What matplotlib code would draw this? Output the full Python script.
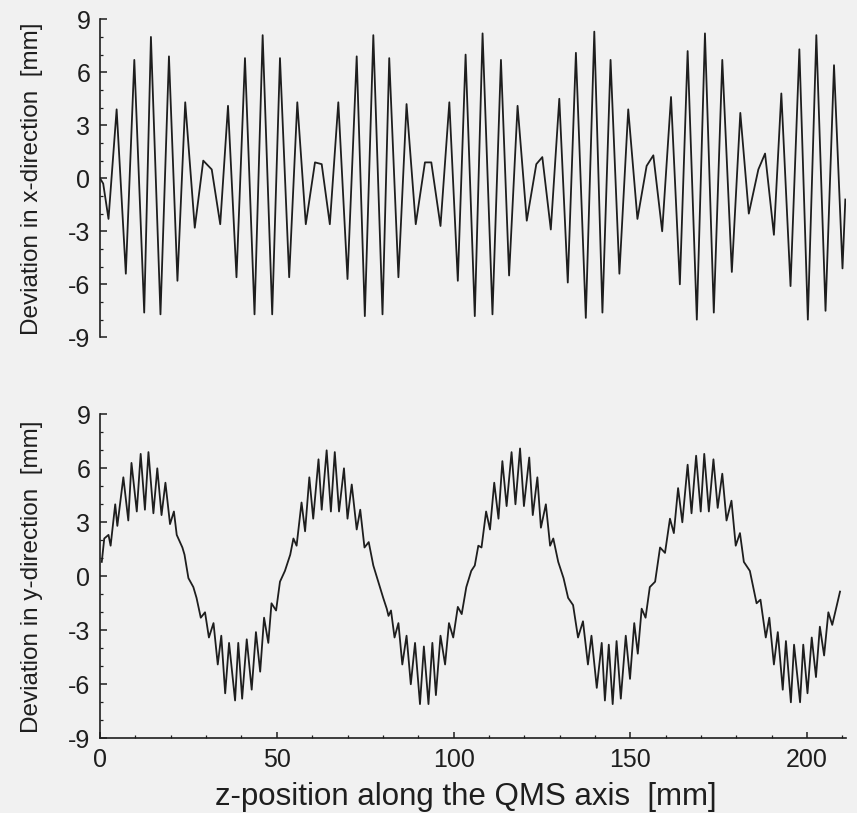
"""Ion trajectory deviation in x and y along the QMS axis (two stacked panels)."""

import matplotlib

matplotlib.use("Agg")
import matplotlib.pyplot as plt
from matplotlib.ticker import MultipleLocator

# top panel: extrema of the x-deviation trace
X_Z = [0.0, 0.9, 2.4, 4.7, 7.3, 9.7, 12.5, 14.4, 17.1, 19.5, 21.9, 24.1, 26.8, 29.2, 31.6,
       34.0, 36.2, 38.6, 41.0, 43.7, 46.0, 48.7, 50.9, 53.5, 55.8, 58.2, 60.8, 62.7, 65.0,
       67.4, 70.0, 72.6, 74.9, 77.3, 79.9, 81.8, 84.4, 86.7, 89.3, 91.9, 93.7, 96.3, 98.8,
       101.2, 103.4, 106.0, 108.2, 111.0, 113.4, 115.7, 118.1, 120.7, 123.4, 125.1, 127.5,
       129.9, 132.3, 134.6, 137.4, 139.8, 142.1, 144.4, 146.9, 149.4, 152.0, 154.6, 156.5,
       159.0, 161.5, 164.0, 166.2, 168.8, 171.1, 173.6, 176.0, 178.7, 181.1, 183.5, 186.2,
       188.1, 190.6, 192.7, 195.3, 197.8, 200.2, 202.6, 205.2, 207.6, 210.0, 210.8]
X_DEV = [0.0, -0.3, -2.3, 3.9, -5.4, 6.7, -7.6, 8.0, -7.7, 6.9, -5.8, 4.3, -2.8, 1.0, 0.5,
         -2.6, 4.1, -5.6, 6.8, -7.7, 8.1, -7.7, 6.8, -5.6, 4.3, -2.6, 0.9, 0.8, -2.6,
         4.3, -5.7, 6.9, -7.8, 8.1, -7.7, 6.8, -5.6, 4.2, -2.6, 0.9, 0.9, -2.7, 4.3,
         -5.8, 7.0, -7.8, 8.2, -7.7, 6.7, -5.5, 4.1, -2.4, 0.8, 1.2, -2.9,
         4.5, -5.9, 7.1, -7.9, 8.3, -7.6, 6.7, -5.4, 3.9, -2.3, 0.7, 1.3,
         -3.0, 4.6, -6.0, 7.2, -8.0, 8.2, -7.6, 6.7, -5.3, 3.7, -2.0, 0.5,
         1.4, -3.2, 4.8, -6.1, 7.3, -8.0, 8.1, -7.5, 6.4, -5.1, -1.2]

# bottom panel: ripple extrema of the y-deviation trace
Y_Z = [0.5, 1.2, 2.4, 3.0, 4.3, 4.9, 6.6, 8.0, 8.9, 10.4, 11.5, 12.7, 13.7, 15.1, 16.2,
       17.4, 18.5, 19.8, 20.9, 21.7, 23.3, 23.9, 25.0, 26.4, 27.3, 28.5, 29.7, 30.8, 32.1,
       33.3, 34.3, 35.4, 36.5, 38.2, 39.1, 40.2, 41.5, 42.9, 44.1, 45.3, 46.4, 47.6, 48.5,
       49.8, 50.9, 52.3, 53.8, 54.7, 55.6, 57.0, 58.0, 59.2, 60.3, 61.8, 62.7, 64.1, 65.3,
       66.4, 67.6, 69.0, 70.0, 71.2, 72.6, 73.6, 74.8, 76.0, 77.3, 78.7, 80.1, 81.1, 81.6,
       82.3, 83.3, 84.4, 85.5, 86.7, 87.9, 89.1, 90.5, 91.6, 92.9, 94.0, 95.0, 96.3, 97.6,
       98.7, 99.9, 101.2, 102.3, 103.6, 105.0, 106.0, 107.0, 107.9, 109.2, 110.3, 111.5,
       112.7, 113.8, 115.0, 116.4, 117.5, 118.8, 119.9, 121.4, 122.4, 123.7, 124.7, 126.1,
       127.3, 128.2, 129.6, 131.1, 132.4, 133.8, 135.2, 136.6, 138.0, 139.0, 140.5, 141.9,
       142.8, 143.9, 145.0, 146.1, 147.3, 148.7, 149.9, 151.1, 152.1, 153.2, 154.3, 155.5,
       157.0, 158.4, 159.8, 161.2, 162.3, 163.5, 164.7, 166.2, 167.3, 168.6, 169.9, 170.9,
       172.2, 173.5, 174.7, 176.0, 177.2, 178.6, 179.8, 181.0, 182.1, 183.8, 185.7, 186.8,
       188.3, 189.3, 190.6, 191.7, 193.1, 194.0, 195.4, 196.3, 198.0, 198.9, 200.1, 201.3,
       202.5, 203.6, 204.8, 206.0, 207.1, 209.3]
Y_DEV = [0.8, 2.1, 2.3, 1.7, 4.0, 2.8, 5.5, 3.1, 6.3, 3.6, 6.8, 3.7, 6.9, 3.5, 6.0,
         3.4, 5.2, 2.9, 3.6, 2.3, 1.6, 1.2, -0.1, -0.6, -1.2, -2.3, -2.0, -3.4, -2.6,
         -4.9, -3.3, -6.5, -3.7, -6.9, -3.7, -6.8, -3.5, -6.3, -3.1, -5.3, -2.3, -3.7, -1.5,
         -1.9, -0.3, 0.3, 1.2, 2.1, 1.7, 4.1, 2.5, 5.5, 3.2, 6.5, 3.7, 7.0, 3.6,
         6.9, 3.6, 6.0, 3.2, 5.1, 2.6, 3.7, 1.6, 1.9, 0.6, -0.3, -1.2, -1.8, -2.2,
         -1.9, -3.4, -2.6, -4.9, -3.3, -6.0, -3.7, -7.1, -3.9, -7.1, -3.7, -6.6, -3.3, -4.9,
         -2.6, -3.4, -1.7, -2.1, -0.6, 0.3, 0.6, 1.7, 1.6, 3.6, 2.6, 5.2,
         3.2, 6.4, 3.9, 6.9, 4.0, 7.1, 3.9, 6.6, 3.4, 5.5, 2.7, 4.0,
         1.7, 2.1, 0.8, -0.1, -1.2, -1.6, -3.4, -2.5, -4.9, -3.3, -6.2, -3.7,
         -6.9, -3.8, -7.1, -3.6, -6.8, -3.3, -5.7, -2.6, -4.3, -1.8, -2.3, -0.6,
         -0.3, 1.6, 1.3, 3.2, 2.4, 4.9, 3.0, 6.2, 3.5, 6.7, 3.6, 6.8,
         3.6, 6.5, 3.8, 5.7, 3.1, 4.2, 1.7, 2.4, 0.8, 0.3, -1.5, -1.3,
         -3.4, -2.3, -4.9, -3.1, -6.3, -3.6, -7.0, -3.8, -7.0, -3.8, -6.5, -3.4,
         -5.6, -2.8, -4.4, -2.0, -2.7, -0.85]

DEV_TICKS = [-9, -6, -3, 0, 3, 6, 9]
Z_TICKS = [0, 50, 100, 150, 200]
Z_LABEL = "z-position along the QMS axis  [mm]"
TOP_LABEL = "Deviation in x-direction  [mm]"
BOTTOM_LABEL = "Deviation in y-direction  [mm]"

BG = "#f1f1f1"
INK = "#1e1e1e"


def _style(ax, ylabel, show_z):
    ax.set_facecolor(BG)
    ax.set_xlim(0, 211)
    ax.set_ylim(-9, 9)
    ax.set_yticks(DEV_TICKS)
    ax.set_yticklabels([str(t) for t in DEV_TICKS])
    ax.yaxis.set_minor_locator(MultipleLocator(1))
    ax.spines[["top", "right"]].set_visible(False)
    ax.spines["left"].set_color(INK)
    ax.spines["left"].set_linewidth(1.2)
    ax.tick_params(axis="y", which="major", direction="in", length=5, width=1.1,
                   labelsize=18, pad=7, colors=INK)
    ax.tick_params(axis="y", which="minor", direction="in", length=2.5, width=0.9, colors=INK)
    ax.set_ylabel(ylabel, fontsize=17.5, color=INK)
    ax.yaxis.set_label_coords(-0.076, 0.5)
    if show_z:
        ax.set_xticks(Z_TICKS)
        ax.set_xticklabels([str(t) for t in Z_TICKS])
        ax.xaxis.set_minor_locator(MultipleLocator(10))
        ax.spines["bottom"].set_color(INK)
        ax.spines["bottom"].set_linewidth(1.2)
        ax.tick_params(axis="x", which="major", direction="in", length=4, width=1.1,
                       labelsize=18, pad=7, colors=INK)
        ax.tick_params(axis="x", which="minor", direction="in", length=2.5, width=0.9, colors=INK)
        ax.set_xlabel(Z_LABEL, fontsize=22.5, color=INK)
        ax.xaxis.set_label_coords(0.49, -0.135)
    else:
        ax.spines["bottom"].set_visible(False)
        ax.tick_params(axis="x", which="both", bottom=False, labelbottom=False)


def main() -> None:
    plt.rcParams["font.family"] = ["Liberation Sans", "DejaVu Sans"]
    plt.rcParams["axes.unicode_minus"] = False

    fig = plt.figure(figsize=(8.57, 8.13), dpi=100, facecolor=BG)
    ax_x = fig.add_axes([0.1167, 0.5851, 0.8705, 0.3912])
    ax_y = fig.add_axes([0.1167, 0.0919, 0.8705, 0.3985])

    ax_x.plot(X_Z, X_DEV, color=INK, linewidth=1.3)
    ax_y.plot(Y_Z, Y_DEV, color=INK, linewidth=1.3)

    _style(ax_x, TOP_LABEL, show_z=False)
    _style(ax_y, BOTTOM_LABEL, show_z=True)

    fig.savefig("out.png", dpi=100, facecolor=BG)
    plt.close(fig)


if __name__ == "__main__":
    main()
